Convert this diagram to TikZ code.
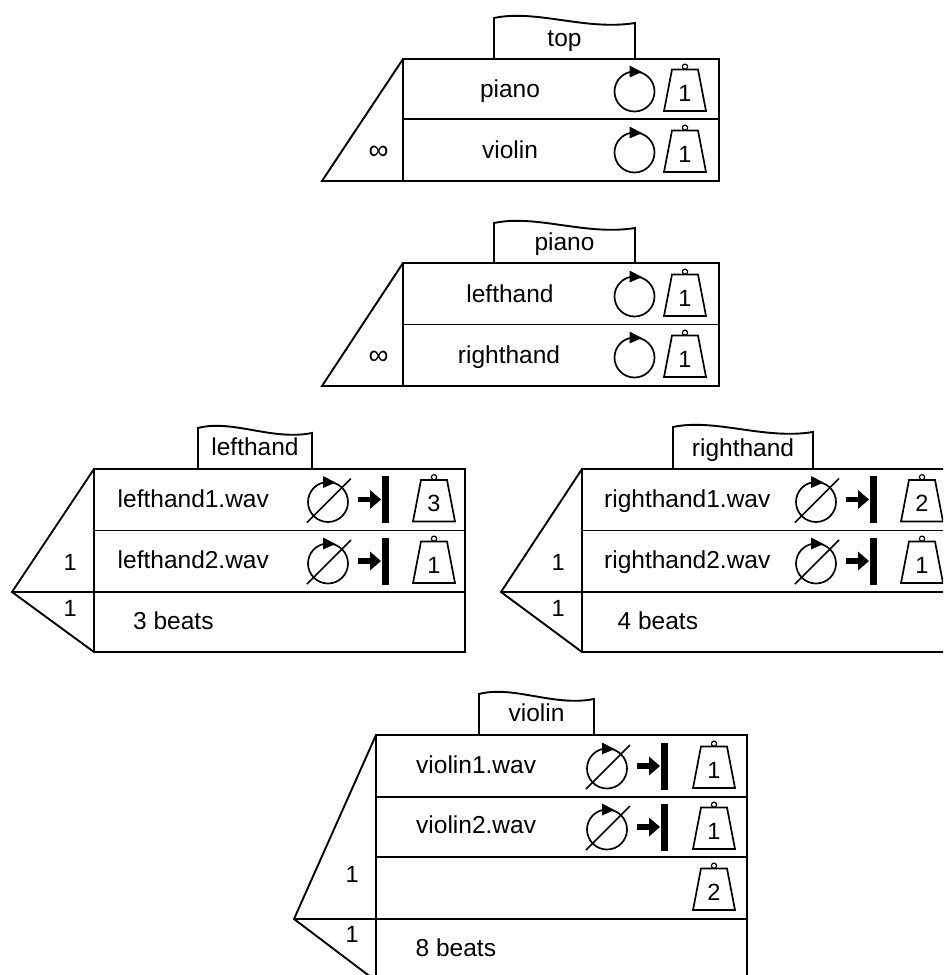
\documentclass[tikz,border=0pt]{standalone}
\usepackage{fontspec}
\setmainfont{Liberation Sans}
\tikzset{
  ln/.style={line width=1.9pt, line join=miter},
  icon/.style={line width=1.7pt},
  txt/.style={inner sep=0pt, font=\fontsize{24.5}{28}\selectfont},
  num/.style={inner sep=0pt, font=\fontsize{23.5}{26}\selectfont},
  wnum/.style={inner sep=0pt, font=\fontsize{23.5}{26}\selectfont},
  inf/.style={inner sep=0pt, font=\fontsize{28}{30}\selectfont},
  looppic/.pic={
    \draw[icon] (0,2.5) circle[radius=20pt];
    \fill (-5,-23.5) -- (7.5,-17) -- (-5,-11.5) -- cycle;
  },
  noloop/.pic={
    \draw[icon] (0,2.5) circle[radius=20pt];
    \fill (-5,-23.5) -- (7.5,-17) -- (-5,-11.5) -- cycle;
    \draw[icon] (-21,23) -- (23,-21);
    \fill (30,-2.8) rectangle (43,2.8);
    \fill (42,-9.5) -- (53,0) -- (42,9.5) -- cycle;
    \fill (54,-23.5) rectangle (61,23.5);
  },
  wpic/.pic={
    \draw[icon, line join=miter] (-13,-19.5) -- (13,-19.5) -- (21,22) -- (-21,22) -- cycle;
    \draw[line width=1.2pt] (0,-22.3) circle[radius=2.6pt];
    \node[wnum, anchor=base] (-num) at (0,12) {#1};
  }
}
\begin{document}
\begin{tikzpicture}[x=1pt,y=-1pt]
\useasboundingbox (0,0) rectangle (943,975);
\clip (0,0) rectangle (943,975);
\fill[white] (0,0) rectangle (943,975);

% ---------- top block ----------
\draw[ln] (494,59) -- (494,18) .. controls (536.3,9) and (585.7,31) .. (635,23) -- (635,59);
\node[txt, anchor=base] (toptab) at (564.5,46) {top};
\draw[ln] (403,59) rectangle (719,181);
\draw[ln] (403,119) -- (719,119);
\draw[ln] (403,59) -- (322,181) -- (403,181);
\node[txt, anchor=base] (toppiano) at (510,97.5) {piano};
\node[txt, anchor=base] (topviolin) at (510,158.5) {violin};
\node[inf, anchor=base] (topinf) at (378.5,159) {∞};
\pic (tl1) at (634.5,89) {looppic};
\pic (tw1) at (685,89) {wpic=1};
\pic (tl2) at (634.5,150) {looppic};
\pic (tw2) at (685,150) {wpic=1};

% ---------- piano block ----------
\draw[ln] (494,263) -- (494,223) .. controls (536.3,214) and (585.7,236) .. (635,228) -- (635,263);
\node[txt, anchor=base] (pianotab) at (564.5,250.5) {piano};
\draw[ln] (403,263) rectangle (719,386);
\draw[ln] (403,324.5) -- (719,324.5);
\draw[ln] (403,263) -- (322,386) -- (403,386);
\node[txt, anchor=base] (pianolh) at (510,302.5) {lefthand};
\node[txt, anchor=base] (pianorh) at (509,363.5) {righthand};
\node[inf, anchor=base] (pianoinf) at (378.5,364) {∞};
\pic (pl1) at (634.5,294) {looppic};
\pic (pw1) at (685,294) {wpic=1};
\pic (pl2) at (634.5,355) {looppic};
\pic (pw2) at (685,355) {wpic=1};

% ---------- lefthand block ----------
\draw[ln] (198,469) -- (198,428) .. controls (232.2,419) and (272.1,441) .. (312,433) -- (312,469);
\node[txt, anchor=base] (lhtab) at (255,455) {lefthand};
\draw[ln] (94,469) rectangle (465,652);
\draw[ln] (94,530.5) -- (465,530.5);
\draw[ln] (12,592) -- (465,592);
\draw[ln] (94,469) -- (12,592) -- (94,652);
\node[txt, anchor=base west] (lhf1) at (117.5,507) {lefthand1.wav};
\node[txt, anchor=base west] (lhf2) at (117.5,568.5) {lefthand2.wav};
\node[txt, anchor=base west] (lhbeats) at (133,629.5) {3 beats};
\node[num, anchor=base east] (lhn1) at (77,570) {1};
\node[num, anchor=base east] (lhn2) at (77,616) {1};
\pic (ll1) at (328,499.5) {noloop};
\pic (lw1) at (434,499.5) {wpic=3};
\pic (ll2) at (328,561) {noloop};
\pic (lw2) at (434,561) {wpic=1};

% ---------- righthand block ----------
\draw[ln] (673,469) -- (673,427) .. controls (715,418) and (764,440) .. (813,432) -- (813,469);
\node[txt, anchor=base] (rhtab) at (743,456) {righthand};
\draw[ln] (582,469) rectangle (953,652);
\draw[ln] (582,530.5) -- (953,530.5);
\draw[ln] (501,592) -- (953,592);
\draw[ln] (582,469) -- (501,592) -- (582,652);
\node[txt, anchor=base west] (rhf1) at (604,507) {righthand1.wav};
\node[txt, anchor=base west] (rhf2) at (604,568.5) {righthand2.wav};
\node[txt, anchor=base west] (rhbeats) at (617.5,629.5) {4 beats};
\node[num, anchor=base east] (rhn1) at (565,570) {1};
\node[num, anchor=base east] (rhn2) at (565,616) {1};
\pic (rl1) at (816,499.5) {noloop};
\pic (rw1) at (922,499.5) {wpic=2};
\pic (rl2) at (816,561) {noloop};
\pic (rw2) at (922,561) {wpic=1};

% ---------- violin block ----------
\draw[ln] (479,735) -- (479,694) .. controls (513.5,685) and (553.8,707) .. (594,699) -- (594,735);
\node[txt, anchor=base] (vtab) at (536.5,721.5) {violin};
\draw[ln] (376,735) rectangle (747,981);
\draw[ln] (376,797) -- (747,797);
\draw[ln] (376,857) -- (747,857);
\draw[ln] (294,919) -- (747,919);
\draw[ln] (376,735) -- (294,919) -- (376,981);
\node[txt, anchor=base west] (vf1) at (416,773) {violin1.wav};
\node[txt, anchor=base west] (vf2) at (416,833.5) {violin2.wav};
\node[txt, anchor=base west] (vbeats) at (415.5,956) {8 beats};
\node[num, anchor=base east] (vn1) at (359,882) {1};
\node[num, anchor=base east] (vn2) at (359,942) {1};
\pic (vl1) at (607,766) {noloop};
\pic (vw1) at (714,766) {wpic=1};
\pic (vl2) at (607,827) {noloop};
\pic (vw2) at (714,827) {wpic=1};
\pic (vw3) at (714,888) {wpic=2};
\end{tikzpicture}
\end{document}
